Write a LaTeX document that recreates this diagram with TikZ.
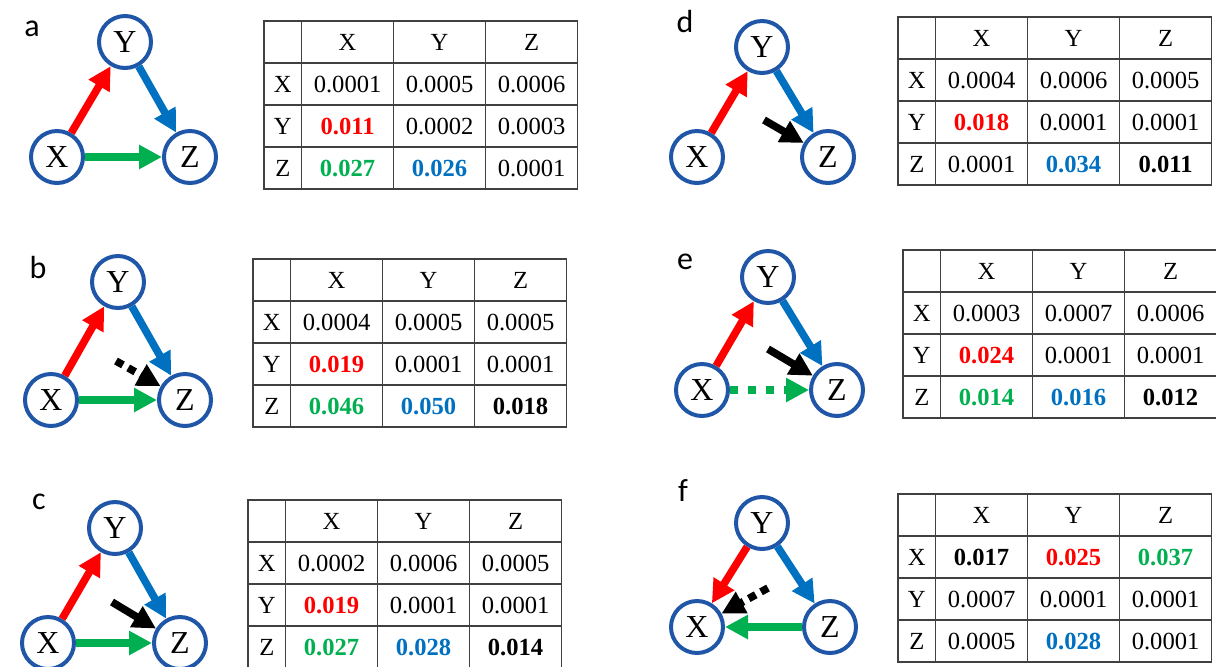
\documentclass[tikz,border=0pt]{standalone}
\usepackage{fontspec}
\setmainfont{Liberation Serif}
\newfontfamily\panelfont{Carlito}
\usetikzlibrary{arrows.meta,%
                matrix}
\definecolor{ringblue}{RGB}{32,86,168}
\definecolor{arrred}{RGB}{255,0,0}
\definecolor{arrblue}{RGB}{0,112,192}
\definecolor{arrgreen}{RGB}{0,176,80}

\begin{document}
\begin{tikzpicture}[x=0.5pt,y=-0.5pt]
		\tikzset{vtx/.style = {circle,draw=ringblue,line width=2pt,minimum size=26pt,inner sep=0pt,font=\fontsize{16}{18}\selectfont},
			panel/.style = {inner sep=0pt,font=\panelfont\fontsize{16}{18}\selectfont},
			edge/.style = {line width=3.8pt,-{Triangle[length=11.5pt,width=11.5pt]}},
			dots/.style = {dash pattern=on 4pt off 3pt},
			restable/.style = {matrix of nodes,nodes in empty cells,inner sep=0pt,anchor=north west,
				column sep=-0.6pt,row sep=-0.6pt,
				nodes={anchor=center,draw=black!75,line width=0.6pt,minimum width=46pt,minimum height=21pt,inner sep=0pt,font=\fontsize{12.3}{14}\selectfont},
				column 1/.style={nodes={minimum width=18.8pt}}},
			vr/.style = {text=arrred,font=\fontsize{12.3}{14}\selectfont\bfseries},
			vg/.style = {text=arrgreen,font=\fontsize{12.3}{14}\selectfont\bfseries},
			vb/.style = {text=arrblue,font=\fontsize{12.3}{14}\selectfont\bfseries},
			vk/.style = {font=\fontsize{12.3}{14}\selectfont\bfseries}}
		\useasboundingbox (0,0) rectangle (1216,666);
		% panel a
		\node[panel] (la) at (32,29) {a};
		\node[vtx] (aY) at (125,42) {Y};
		\node[vtx] (aX) at (57,157) {X};
		\node[vtx] (aZ) at (190,157) {Z};
		\draw[edge,arrred] (aX) -- (aY);
		\draw[edge,arrblue] (aY) -- (aZ);
		\draw[edge,arrgreen] (aX) -- (aZ);
		\matrix[restable] (ta) at (263,20) {
			  & X & Y & Z \\
			X & 0.0001 & 0.0005 & 0.0006 \\
			Y & |[vr]| 0.011 & 0.0002 & 0.0003 \\
			Z & |[vg]| 0.027 & |[vb]| 0.026 & 0.0001 \\
		};
		% panel b
		\node[panel] (lb) at (38,267) {b};
		\node[vtx] (bY) at (118,282) {Y};
		\node[vtx] (bX) at (51,400) {X};
		\node[vtx] (bZ) at (185,400) {Z};
		\coordinate (bK) at (116,361);
		\draw[edge,arrred] (bX) -- (bY);
		\draw[edge,arrblue] (bY) -- (bZ);
		\draw[edge,arrgreen] (bX) -- (bZ);
		\draw[edge,black,dots] (bK) -- (bZ);
		\matrix[restable] (tb) at (252,258) {
			  & X & Y & Z \\
			X & 0.0004 & 0.0005 & 0.0005 \\
			Y & |[vr]| 0.019 & 0.0001 & 0.0001 \\
			Z & |[vg]| 0.046 & |[vb]| 0.050 & |[vk]| 0.018 \\
		};
		% panel c
		\node[panel] (lc) at (39,502) {c};
		\node[vtx] (cY) at (115,528) {Y};
		\node[vtx] (cX) at (48,643) {X};
		\node[vtx] (cZ) at (180,643) {Z};
		\coordinate (cK) at (112,602);
		\draw[edge,arrred] (cX) -- (cY);
		\draw[edge,arrblue] (cY) -- (cZ);
		\draw[edge,arrgreen] (cX) -- (cZ);
		\draw[edge,black] (cK) -- (cZ);
		\matrix[restable] (tc) at (247,499) {
			  & X & Y & Z \\
			X & 0.0002 & 0.0006 & 0.0005 \\
			Y & |[vr]| 0.019 & 0.0001 & 0.0001 \\
			Z & |[vg]| 0.027 & |[vb]| 0.028 & |[vk]| 0.014 \\
		};
		% panel d
		\node[panel] (ld) at (685,21) {d};
		\node[vtx] (dY) at (762,47) {Y};
		\node[vtx] (dX) at (697,157) {X};
		\node[vtx] (dZ) at (828,157) {Z};
		\coordinate (dK) at (764,120);
		\draw[edge,arrred] (dX) -- (dY);
		\draw[edge,arrblue] (dY) -- (dZ);
		\draw[edge,black] (dK) -- (dZ);
		\matrix[restable] (td) at (897,16) {
			  & X & Y & Z \\
			X & 0.0004 & 0.0006 & 0.0005 \\
			Y & |[vr]| 0.018 & 0.0001 & 0.0001 \\
			Z & 0.0001 & |[vb]| 0.034 & |[vk]| 0.011 \\
		};
		% panel e
		\node[panel] (le) at (685,262) {e};
		\node[vtx] (eY) at (768,277) {Y};
		\node[vtx] (eX) at (702,390) {X};
		\node[vtx] (eZ) at (837,390) {Z};
		\coordinate (eK) at (768,349);
		\draw[edge,arrred] (eX) -- (eY);
		\draw[edge,arrblue] (eY) -- (eZ);
		\draw[edge,arrgreen,dash pattern=on 4pt off 5pt] (eX) -- (eZ);
		\draw[edge,black] (eK) -- (eZ);
		\matrix[restable] (te) at (902,249) {
			  & X & Y & Z \\
			X & 0.0003 & 0.0007 & 0.0006 \\
			Y & |[vr]| 0.024 & 0.0001 & 0.0001 \\
			Z & |[vg]| 0.014 & |[vb]| 0.016 & |[vk]| 0.012 \\
		};
		% panel f
		\node[panel] (lf) at (683,491) {f};
		\node[vtx] (fY) at (762,523) {Y};
		\node[vtx] (fX) at (697,627) {X};
		\node[vtx] (fZ) at (830,627) {Z};
		\coordinate (fK) at (768,588);
		\draw[edge,arrred] (fY) -- (fX);
		\draw[edge,arrblue] (fY) -- (fZ);
		\draw[edge,arrgreen] (fZ) -- (fX);
		\draw[edge,black,dots] (fK) -- (fX);
		\matrix[restable] (tf) at (897,493) {
			  & X & Y & Z \\
			X & |[vk]| 0.017 & |[vr]| 0.025 & |[vg]| 0.037 \\
			Y & 0.0007 & 0.0001 & 0.0001 \\
			Z & 0.0005 & |[vb]| 0.028 & 0.0001 \\
		};
	\end{tikzpicture}
\end{document}
